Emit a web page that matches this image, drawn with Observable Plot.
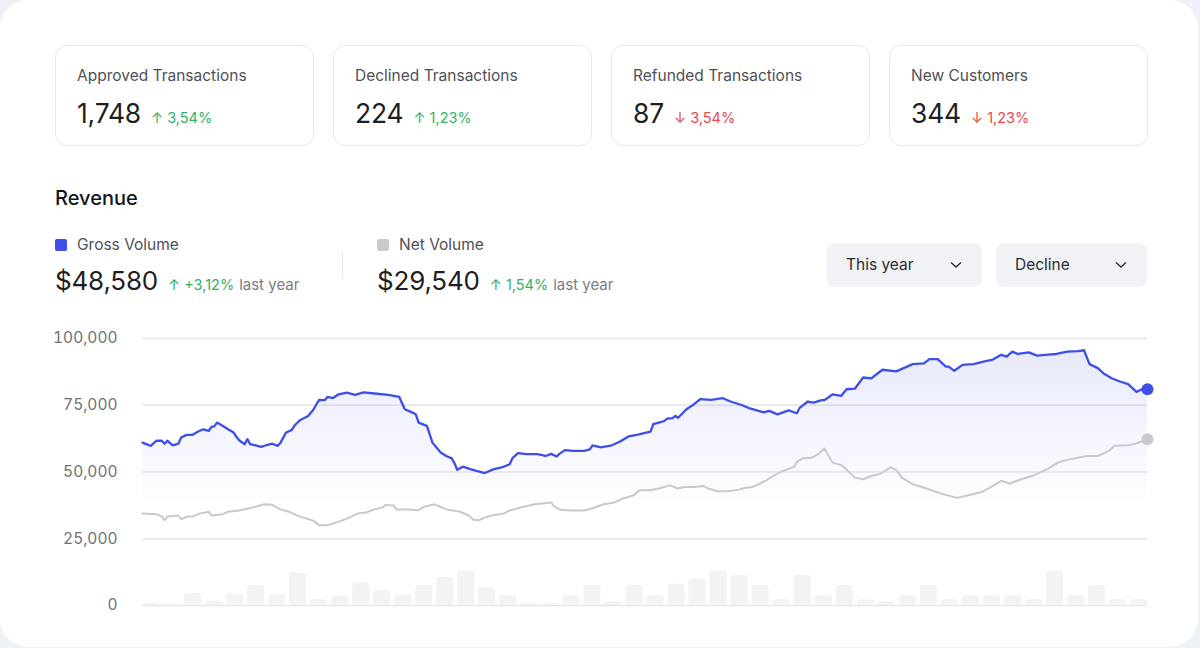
<!DOCTYPE html>
<html>
<head>
<meta charset="utf-8">
<script src="https://cdn.jsdelivr.net/npm/d3@7"></script>
<script src="https://cdn.jsdelivr.net/npm/@observablehq/plot@0.6"></script>
<style>
  html, body { margin:0; padding:0; }
  body { width:1200px; height:648px; background:#eef1f6; font-family: Inter, "Noto Sans", sans-serif; position:relative; overflow:hidden; }
  #card { position:absolute; left:0; top:0; width:1198px; height:647px; background:#fff; border-radius:28px; }
  .stat { position:absolute; top:45px; width:257px; height:99px; border:1px solid #e7e8eb; border-radius:12px; background:#fff; }
  .stat .lab { position:absolute; left:21px; top:21px; font-size:15.5px; line-height:18px; color:#505056; }
  .stat .val { position:absolute; left:21px; top:50px; line-height:34px; white-space:nowrap; }
  .big { font-size:26.5px; color:#1f1f23; letter-spacing:-0.2px; }
  .chg { font-size:14.5px; margin-left:10px; }
  .up { color:#31b067; }
  .down { color:#e5484d; }
  #rev { position:absolute; left:55px; top:186px; font-size:20px; line-height:24px; font-weight:500; color:#151518; }
  .leg { position:absolute; top:236px; font-size:15.5px; line-height:18px; color:#505056; white-space:nowrap; }
  .leg .sw { display:inline-block; width:12px; height:12px; border-radius:2px; vertical-align:-1px; margin-right:10px; }
  .legval { position:absolute; top:264px; line-height:34px; white-space:nowrap; }
  .legval .big { font-size:26px; }
  .legval .ly { font-size:15px; color:#7c7c82; margin-left:5px; }
  #divider { position:absolute; left:342px; top:252px; width:1px; height:27px; background:#e6e6e9; }
  .dd { position:absolute; top:243px; height:44px; background:#f1f2f6; border-radius:8px; font-size:15.5px; line-height:44px; color:#2c2c30; }
  .dd span { position:absolute; left:19px; }
  .dd svg { position:absolute; top:18px; }
  #chart { position:absolute; left:0; top:320px; }
</style>
</head>
<body>
<div id="card"></div>
<div id="stats"></div>
<div id="rev">Revenue</div>
<div id="legend"></div>
<div id="divider"></div>
<div class="dd" style="left:827px;width:155px"><span>This year</span><svg width="12" height="8" style="left:123px"><polyline points="1,1.5 6,6 11,1.5" fill="none" stroke="#333" stroke-width="1.5"/></svg></div>
<div class="dd" style="left:996px;width:151px"><span>Decline</span><svg width="12" height="8" style="left:119px"><polyline points="1,1.5 6,6 11,1.5" fill="none" stroke="#333" stroke-width="1.5"/></svg></div>
<div id="chart"></div>
<script>
// ---- KPI cards ----
const statLabels = ["Approved Transactions", "Declined Transactions", "Refunded Transactions", "New Customers"];
const statValues = ["1,748", "224", "87", "344"];
const statChanges = ["3,54%", "1,23%", "3,54%", "1,23%"];
const statUp = [true, true, false, false];

// ---- Legend ----
const seriesNames = ["Gross Volume", "Net Volume"];
const seriesTotals = ["$48,580", "$29,540"];
const seriesChanges = ["+3,12%", "1,54%"];
const seriesColors = ["#3d4fe6", "#c9c9ce"];

// ---- Y ticks ----
const yTicks = [0, 25000, 50000, 75000, 100000];

// ---- Gross volume (day of year, value) ----
const grossDays = [0,3,5,7,8,9,11,13,14,16,18,20,22,24,25,26,27,29,31,33,34,35,37,38,39,41,43,45,47,49,50,52,54,55,57,60,62,63,64,66,67,69,71,74,77,80,84,89,93,95,97,99,100,103,104,105,108,110,112,113,114,116,119,121,124,127,130,133,134,136,139,143,146,148,150,151,153,156,160,162,163,166,170,173,176,179,184,185,187,189,190,192,193,194,197,199,202,206,210,213,217,220,225,227,230,234,237,238,241,243,246,247,250,253,255,258,261,264,268,273,279,283,285,288,291,292,294,297,301,305,308,311,313,315,317,321,324,327,331,335,339,341,343,346,348,351,354,357,360,362,364];
const grossValues = [61000,59800,61700,61700,60600,61700,60000,60600,62900,63900,63900,65100,66000,65400,66900,67100,68500,67300,66000,64800,63200,61900,60400,62300,60400,60000,59400,60100,60600,59800,61000,64800,65700,67300,69400,71000,73500,75400,77000,76900,78100,77700,79100,79700,78900,79800,79400,78900,78100,73500,72600,71600,68500,67300,64200,61000,57300,56000,55100,53300,50800,52000,51000,50400,49600,51000,51700,52900,55200,57100,56700,56700,56000,56800,55800,56800,58200,57900,57900,58500,60000,59200,60000,61400,63300,63900,65100,67900,68500,69100,70000,70200,71000,70300,73500,74800,77300,77000,77700,76400,75100,73800,72300,72900,71600,73100,72000,74000,76400,76000,76900,76900,79100,78500,81000,81200,85400,85100,88300,87700,90400,90700,92300,92300,89500,89500,87900,90100,90400,91400,92100,93900,93200,95100,94200,94800,93600,93900,94200,95100,95300,95600,90400,88900,87000,85100,83900,82900,80000,81000,81000];

// ---- Net volume (day of year, value) ----
const netDays = [0,5,7,8,9,13,14,16,18,21,24,25,29,31,35,40,44,47,50,53,57,60,62,64,67,69,72,75,78,81,84,87,88,91,92,96,100,102,106,108,110,115,118,120,122,124,127,131,133,137,142,148,149,151,155,160,163,167,171,174,178,180,184,187,191,194,196,200,203,205,208,212,216,218,221,223,226,227,231,236,237,239,242,243,245,247,248,250,253,255,258,261,264,267,271,273,275,279,284,289,295,299,304,308,311,314,318,323,328,332,337,342,346,350,352,357,360,364];
const netValues = [34500,34200,33400,32000,33300,33700,32300,33300,33300,34500,35100,33700,34200,35100,35600,36700,37900,37700,36000,35100,33300,32400,31700,30100,30100,30700,31700,33000,34500,34800,36000,36700,37600,37500,36000,36000,35700,37000,37900,36900,36000,35100,33800,32000,32000,33000,33800,34500,35600,36700,37900,38600,37200,36000,35600,35600,36400,37900,38600,40100,41300,43200,43200,43800,45000,43800,44400,44400,44800,43800,42900,42800,43400,44000,44400,45400,46900,47600,50000,51900,53800,55100,55300,55700,56900,58800,56900,53500,52600,50900,47900,47300,48500,49200,51700,50800,47900,45400,43800,42000,40300,41300,42500,44800,46700,45700,47200,48800,51300,53800,55000,56000,56000,57900,59800,60000,60700,62300];

// ---- Background bars (48 periods) ----
const barValues = [700,200,4500,1600,4200,7500,4200,12200,2200,3500,8500,5500,3900,7500,10500,13000,6700,3700,750,750,3700,7500,1400,7500,3700,8000,10000,13000,11200,7500,2200,11200,3700,7500,2200,1400,3700,7500,2200,3700,3700,3700,2200,13000,3700,7500,2200,2200];
const areaBase = 40000;
const dayDomain = [0, 364];

// ---- build KPI cards ----
const statsEl = document.getElementById("stats");
statLabels.forEach((l, i) => {
  const c = document.createElement("div");
  c.className = "stat";
  c.style.left = (55 + i * 278) + "px";
  c.innerHTML = `<div class="lab">${l}</div><div class="val"><span class="big">${statValues[i]}</span><span class="chg ${statUp[i] ? "up" : "down"}">${statUp[i] ? "↑" : "↓"} ${statChanges[i]}</span></div>`;
  statsEl.appendChild(c);
});

// ---- legend ----
const legEl = document.getElementById("legend");
const legX = [55, 377];
seriesNames.forEach((n, i) => {
  const a = document.createElement("div");
  a.className = "leg";
  a.style.left = legX[i] + "px";
  a.innerHTML = `<span class="sw" style="background:${seriesColors[i]}"></span>${n}`;
  legEl.appendChild(a);
  const b = document.createElement("div");
  b.className = "legval";
  b.style.left = legX[i] + "px";
  b.innerHTML = `<span class="big">${seriesTotals[i]}</span><span class="chg up">↑ ${seriesChanges[i]}</span><span class="ly">last year</span>`;
  legEl.appendChild(b);
});

// ---- chart ----
const gross = grossDays.map((d, i) => ({day: d, value: grossValues[i]}));
const net = netDays.map((d, i) => ({day: d, value: netValues[i]}));
const pitch = (dayDomain[1] - dayDomain[0]) / (barValues.length - 0.19);
const bars = barValues.map((v, i) => ({i, value: v}));

const chart = Plot.plot({
  width: 1200,
  height: 310,
  marginLeft: 142,
  marginRight: 53,
  marginTop: 18,
  marginBottom: 25,
  x: {domain: dayDomain, axis: null},
  y: {domain: [0, 100000], axis: null},
  style: {fontFamily: "Inter, sans-serif", fontSize: "15px", color: "#707076", background: "transparent", overflow: "visible"},
  marks: [
    Plot.ruleY(yTicks, {stroke: "#e6e6e9", strokeWidth: 1.3}),
    Plot.axisY({ticks: yTicks, tickSize: 0, tickPadding: 25, tickFormat: d3.format(","), label: null, fontSize: 15.5}),
    Plot.rectY(bars, {x1: d => d.i * pitch, x2: d => d.i * pitch + pitch * 0.81, y: "value", fill: "#f3f3f5", rx: 3}),
    Plot.areaY(gross, {x: "day", y1: areaBase, y2: "value", fill: "url(#grossFade)"}),
    Plot.lineY(net, {x: "day", y: "value", stroke: "#c8c8cd", strokeWidth: 2}),
    Plot.lineY(gross, {x: "day", y: "value", stroke: "#3d4fe6", strokeWidth: 2.3}),
    Plot.dot([net[net.length - 1]], {x: "day", y: "value", r: 6, fill: "#c8c8cd"}),
    Plot.dot([gross[gross.length - 1]], {x: "day", y: "value", r: 6, fill: "#3d4fe6"})
  ]
});
d3.select(chart).insert("defs", ":first-child").html(
  `<linearGradient id="grossFade" x1="0" y1="0" x2="0" y2="1">
     <stop offset="0%" stop-color="#3d4fe6" stop-opacity="0.12"/>
     <stop offset="70%" stop-color="#3d4fe6" stop-opacity="0.04"/>
     <stop offset="100%" stop-color="#3d4fe6" stop-opacity="0.01"/>
   </linearGradient>`);
document.getElementById("chart").appendChild(chart);
</script>
</body>
</html>
